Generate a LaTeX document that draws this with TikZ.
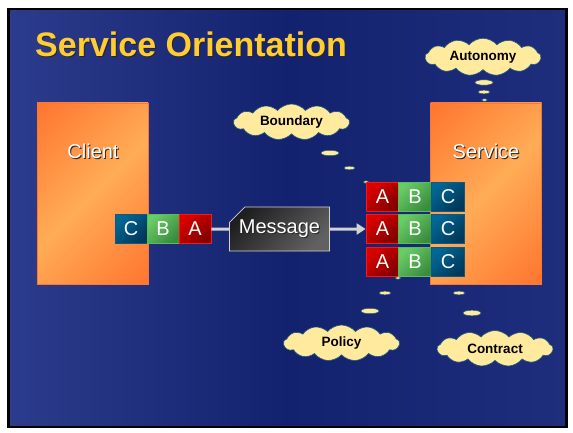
\documentclass[tikz,border=0pt]{standalone}
\usepackage{fontspec}
\setmainfont{Liberation Sans}
\usetikzlibrary{shapes.symbols,shapes.misc,arrows.meta}
\definecolor{titlegold}{RGB}{255,204,51}
\definecolor{cloudfill}{RGB}{255,234,158}
\definecolor{cloudline}{RGB}{30,90,120}
\definecolor{bgA}{RGB}{44,60,140}
\definecolor{bgB}{RGB}{18,34,110}
\definecolor{bgC}{RGB}{30,46,125}
\definecolor{orDark}{RGB}{255,118,48}
\definecolor{orLight}{RGB}{255,172,86}
\definecolor{redA}{RGB}{220,0,0}
\definecolor{redB}{RGB}{130,0,0}
\definecolor{redE}{RGB}{255,20,20}
\definecolor{grnA}{RGB}{106,204,102}
\definecolor{grnB}{RGB}{58,140,62}
\definecolor{grnE}{RGB}{90,190,90}
\definecolor{bluA}{RGB}{0,104,150}
\definecolor{bluB}{RGB}{0,56,90}
\definecolor{bluE}{RGB}{10,90,136}
\definecolor{linegray}{RGB}{210,210,210}
\pgfdeclarehorizontalshading{panelshade}{100bp}{color(0bp)=(orDark); color(27bp)=(orDark); color(50bp)=(orLight); color(73bp)=(orDark); color(100bp)=(orDark)}
\newcommand\shtxt[2]{\leavevmode\rlap{\kern#2\raisebox{-#2}{\color{black!85}#1}}#1}
\begin{document}
\begin{tikzpicture}[x=1pt,y=1pt,
  panel/.style={draw=orDark, line width=0.8pt, fill=orDark, minimum width=111pt, minimum height=181pt, inner sep=0pt,
    path picture={\shade[shading=panelshade, shading angle=-45] ([shift={(-110pt,-110pt)}]path picture bounding box.center) rectangle ([shift={(110pt,110pt)}]path picture bounding box.center);}},
  plabel/.style={text=white, font=\fontsize{20}{24}\selectfont, inner sep=0pt},
  blk/.style={minimum width=32pt, minimum height=29pt, inner sep=0pt, font=\fontsize{20}{24}\selectfont, text=white, line width=0.8pt},
  ablk/.style={blk, draw=redE, top color=redA, bottom color=redB, shading angle=45},
  bblk/.style={blk, draw=grnE, top color=grnA, bottom color=grnB, shading angle=45},
  cblk/.style={blk, draw=bluE, top color=bluA, bottom color=bluB, shading angle=45},
  rblk/.style={minimum width=33pt},
  cloudnode/.style={cloud, cloud puffs=13, cloud puff arc=100, aspect=3.4, fill=cloudfill, draw=cloudline, line width=0.6pt, minimum width=116pt, minimum height=36pt, inner sep=0pt, font=\fontsize{13.5}{16}\selectfont\bfseries, text=black},
  bub/.style={fill=cloudfill, draw=cloudline, line width=0.5pt},
  conn/.style={draw=linegray, line width=3pt},
  msgbox/.style={chamfered rectangle, chamfered rectangle corners=north west, chamfered rectangle xsep=12pt, chamfered rectangle ysep=6pt, draw=linegray, line width=0.8pt, top color=black!88, middle color=black, bottom color=black!62, shading angle=45, minimum width=89pt, minimum height=44pt, inner sep=0pt, text=white, font=\fontsize{20}{24}\selectfont}
]
\useasboundingbox (0,0) rectangle (573,432);
\fill[white] (0,0) rectangle (573,432);
\fill[black] (7,4) rectangle (568,424);
\shade[left color=bgA, right color=bgC, middle color=bgB] (10,7) rectangle (565,421);

% title
\node[anchor=base west, text=titlegold, font=\fontsize{34}{40}\selectfont\bfseries, inner sep=0pt] (title) at (35,375) {\shtxt{Service Orientation}{1pt}};

% thought bubbles
\path[bub] (484,349.5) ellipse [x radius=9pt, y radius=2.7pt];
\path[bub] (484,340) ellipse [x radius=6pt, y radius=1.8pt];
\path[bub] (484.5,332) ellipse [x radius=2.7pt, y radius=1.2pt];
\path[bub] (330,279) ellipse [x radius=9pt, y radius=2.7pt];
\path[bub] (349.5,264) ellipse [x radius=5.5pt, y radius=1.8pt];
\path[bub] (366,250) ellipse [x radius=2.5pt, y radius=1.2pt];
\path[bub] (370,121) ellipse [x radius=9pt, y radius=2.7pt];
\path[bub] (385,139) ellipse [x radius=6pt, y radius=1.8pt];
\path[bub] (398,154) ellipse [x radius=2.5pt, y radius=1.2pt];
\path[bub] (472,119) ellipse [x radius=9pt, y radius=2.8pt];
\path[bub] (459,139) ellipse [x radius=6pt, y radius=1.8pt];
\path[bub] (448,156) ellipse [x radius=2.5pt, y radius=1.2pt];

% clouds
\node[cloudnode] (autonomy) at (483,375) {Autonomy};
\node[cloudnode] (boundary) at (291.5,310) {Boundary};
\node[cloudnode] (policy) at (341.5,89) {Policy};
\node[cloudnode] (contract) at (495,83.5) {Contract};

% panels
\node[panel] (client) at (92.5,238.5) {};
\node[panel] (service) at (486,238.5) {};
\node[plabel] (clientlbl) at (93,280) {\shtxt{Client}{1pt}};
\node[plabel] (servicelbl) at (486,280) {\shtxt{Service}{1pt}};

% client message parts
\node[cblk] (cc) at (131,203) {C};
\node[bblk] (cb) at (163,203) {B};
\node[ablk] (ca) at (195,203) {A};

% message
\node[msgbox] (msg) at (279.5,203) {\shtxt{Message}{1pt}};

% service stacks
\node[ablk,rblk] (ra1) at (382.5,235.5) {A};
\node[bblk,rblk] (rb1) at (415,235.5) {B};
\node[cblk,rblk] (rc1) at (448,235.5) {C};
\node[ablk,rblk] (ra2) at (382.5,203) {A};
\node[bblk,rblk] (rb2) at (415,203) {B};
\node[cblk,rblk] (rc2) at (448,203) {C};
\node[ablk,rblk] (ra3) at (382.5,170) {A};
\node[bblk,rblk] (rb3) at (415,170) {B};
\node[cblk,rblk] (rc3) at (448,170) {C};

% connectors
\draw[conn] (ca) -- (msg);
\draw[conn, -{Triangle[length=9pt,width=11pt]}] (msg) -- (ra2);
\end{tikzpicture}
\end{document}
